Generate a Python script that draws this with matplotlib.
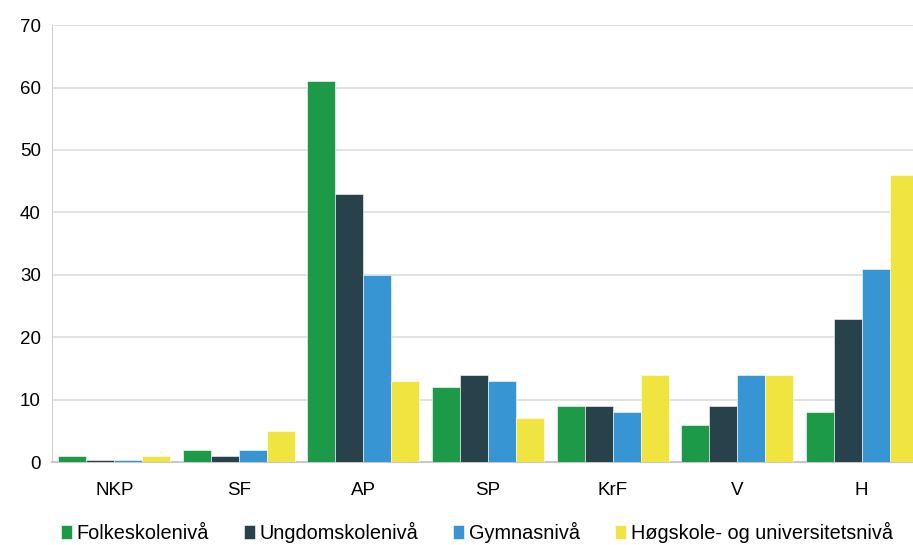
import numpy as np
import matplotlib as mpl
import matplotlib.pyplot as plt

mpl.rcParams.update({
    "font.family": ["Liberation Sans", "DejaVu Sans"],
    "font.size": 13.5,
})

parties = ["NKP", "SF", "AP", "SP", "KrF", "V", "H"]
levels = ["Folkeskolenivå", "Ungdomskolenivå", "Gymnasnivå",
          "Høgskole- og universitetsnivå"]
folkeskole = [1, 2, 61, 12, 9, 6, 8]
ungdomskole = [0.3, 1, 43, 14, 9, 9, 23]
gymnas = [0.3, 2, 30, 13, 8, 14, 31]
hogskole = [1, 5, 13, 7, 14, 14, 46]
series = [folkeskole, ungdomskole, gymnas, hogskole]
colors = ["#1d9a48", "#27424a", "#3795d4", "#f0e441"]

fig = plt.figure(figsize=(9.13, 5.45), dpi=100)
ax = fig.add_axes([0.057, 0.152, 0.955, 0.802])

x = np.arange(len(parties))
w = 0.225
for i, (vals, c) in enumerate(zip(series, colors)):
    ax.bar(x + (i - 1.5) * w, vals, w, color=c, label=levels[i],
           edgecolor="white", linewidth=0.4, zorder=3)

ax.set_xlim(-0.5, len(parties) - 0.5)
ax.set_ylim(0, 70)
ax.set_yticks(range(0, 71, 10))
ax.set_xticks(x)
ax.set_xticklabels(parties)
ax.yaxis.grid(True, color="#dddddd", linewidth=1.2, zorder=0)
ax.tick_params(length=0, pad=8)
ax.tick_params(axis="x", pad=14)
for s in ["top", "right"]:
    ax.spines[s].set_visible(False)
ax.spines["left"].set_color("#d0d0d0")
ax.spines["bottom"].set_color("#c8c8c8")
ax.spines["bottom"].set_linewidth(1.5)

ax.legend(loc="lower center", bbox_to_anchor=(0.487, -0.225), ncol=4,
          frameon=False, handlelength=0.55, handleheight=0.7,
          handletextpad=0.25, columnspacing=1.75, fontsize=14.3)

fig.savefig("out.png", dpi=100)
